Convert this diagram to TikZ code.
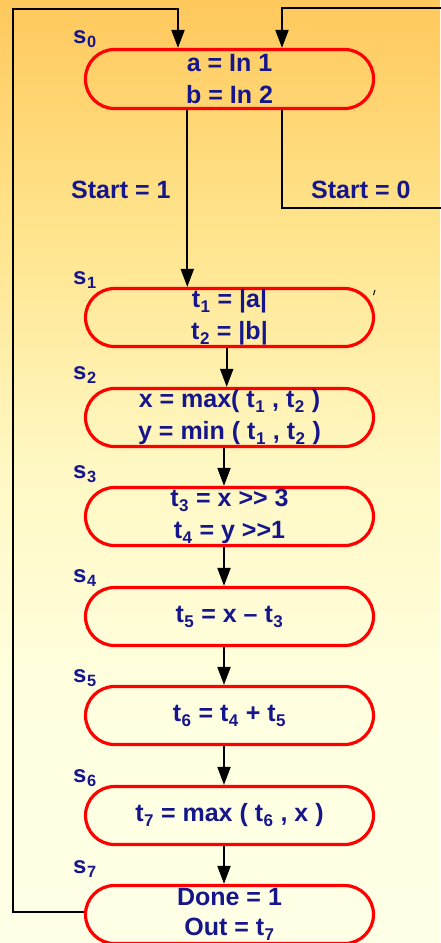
\documentclass[tikz,border=0pt]{standalone}
\usepackage{fontspec}
\setmainfont{Liberation Sans}
\usetikzlibrary{arrows.meta}
\definecolor{ink}{RGB}{22,22,140}
\definecolor{bgtop}{RGB}{255,200,92}
\definecolor{bgA}{RGB}{255,227,138}
\definecolor{bgB}{RGB}{255,248,196}
\definecolor{bgC}{RGB}{255,255,224}
\definecolor{bgbot}{RGB}{255,255,230}
\definecolor{boxred}{RGB}{255,0,0}
\pgfdeclareverticalshading{bgshade}{100bp}{color(0bp)=(bgbot); color(25bp)=(bgbot); color(37.9bp)=(bgC); color(50.1bp)=(bgB); color(63.3bp)=(bgA); color(75bp)=(bgtop); color(100bp)=(bgtop)}
\newcommand{\sbt}[1]{\kern0.5pt\relax\raisebox{-0.2em}{\scalebox{0.68}{#1}}\kern0.5pt\relax}
\newcommand{\shr}{>\kern0pt\relax>}
\tikzset{
  statebox/.style={draw=boxred, line width=3.2pt, rectangle, rounded corners=29pt,
    minimum width=288pt, minimum height=58pt, inner sep=0pt, align=center,
    text=ink, font=\fontsize{25}{32}\selectfont\bfseries},
  slabel/.style={anchor=base west, inner sep=0pt, text=ink, font=\fontsize{24}{24}\selectfont\bfseries},
  condlabel/.style={anchor=base west, inner sep=0pt, text=ink, font=\fontsize{25}{25}\selectfont\bfseries},
  wire/.style={draw=black, line width=2pt},
  arr/.style={wire, -{Triangle[width=13pt,length=18pt]}}
}
\begin{document}
\begin{tikzpicture}[x=1pt,y=-1pt]
\useasboundingbox (0,0) rectangle (440,943);
\shade[shading=bgshade] (0,0) rectangle (440,943);

% states
\node[statebox, minimum height=59pt] (s0) at (229.5,79) {a = In 1\\b = In 2};
\node[statebox] (s1) at (229.5,317.5) {t\sbt{1} = |a|\\t\sbt{2} = |b|};
\node[statebox] (s2) at (229.5,417.5) {x = max( t\sbt{1} , t\sbt{2} )\\y = min ( t\sbt{1} , t\sbt{2} )};
\node[statebox] (s3) at (229.5,516.5) {t\sbt{3} = x \shr{} 3\\t\sbt{4} = y \shr1};
\node[statebox] (s4) at (229.5,616.5) {t\sbt{5} = x – t\sbt{3}};
\node[statebox] (s5) at (229.5,715.5) {t\sbt{6} = t\sbt{4} + t\sbt{5}};
\node[statebox] (s6) at (229.5,815.5) {t\sbt{7} = max ( t\sbt{6} , x )};
\node[statebox] (s7) at (229.5,914.5) {\raisebox{2pt}{Done = 1}\\\raisebox{3.5pt}{Out = t\sbt{7}}};

% state names
\node[slabel] (n0) at (73,43) {s\sbt{0}};
\node[slabel] (n1) at (73,284) {s\sbt{1}};
\node[slabel] (n2) at (73,379) {s\sbt{2}};
\node[slabel] (n3) at (73,478) {s\sbt{3}};
\node[slabel] (n4) at (73,582) {s\sbt{4}};
\node[slabel] (n5) at (73,682) {s\sbt{5}};
\node[slabel] (n6) at (73,782) {s\sbt{6}};
\node[slabel] (n7) at (73,873) {s\sbt{7}};

% condition labels
\node[condlabel] (c1) at (71,198) {Start = 1};
\node[condlabel] (c0) at (311,198) {Start = 0};

% routing coordinates
\coordinate (xa) at (187.3,0);
\coordinate (xb) at (226.7,0);
\coordinate (xc) at (224,0);
\coordinate (xl) at (178,0);
\coordinate (xr) at (282,0);
\coordinate (lt) at (13,9);
\coordinate (lb) at (13,912);
\coordinate (rt) at (441,8);
\coordinate (rb) at (441,208);
\coordinate (rk) at (282,208);

% transitions
\draw[arr] (s0.south -| xa) -- (s1.north -| xa);
\draw[arr] (s1.south -| xb) -- (s2.north -| xb);
\draw[arr] (s2.south -| xc) -- (s3.north -| xc);
\draw[arr] (s3.south -| xc) -- (s4.north -| xc);
\draw[arr] (s4.south -| xc) -- (s5.north -| xc);
\draw[arr] (s5.south -| xc) -- (s6.north -| xc);
\draw[arr] (s6.south -| xc) -- (s7.north -| xc);

% Start = 0 self loop (leaves picture on the right)
\draw[wire] (s0.south -| xr) -- (rk) -- (rb);
\draw[arr] (rt) -- (rt -| xr) -- (s0.north -| xr);

% return from s7 to s0
\draw[arr] (s7.west |- lb) -- (lb) -- (lt) -- (lt -| xl) -- (s0.north -| xl);

% small stray tick
\draw[line width=1pt] (373.5,295) -- (375,290);
\end{tikzpicture}
\end{document}
